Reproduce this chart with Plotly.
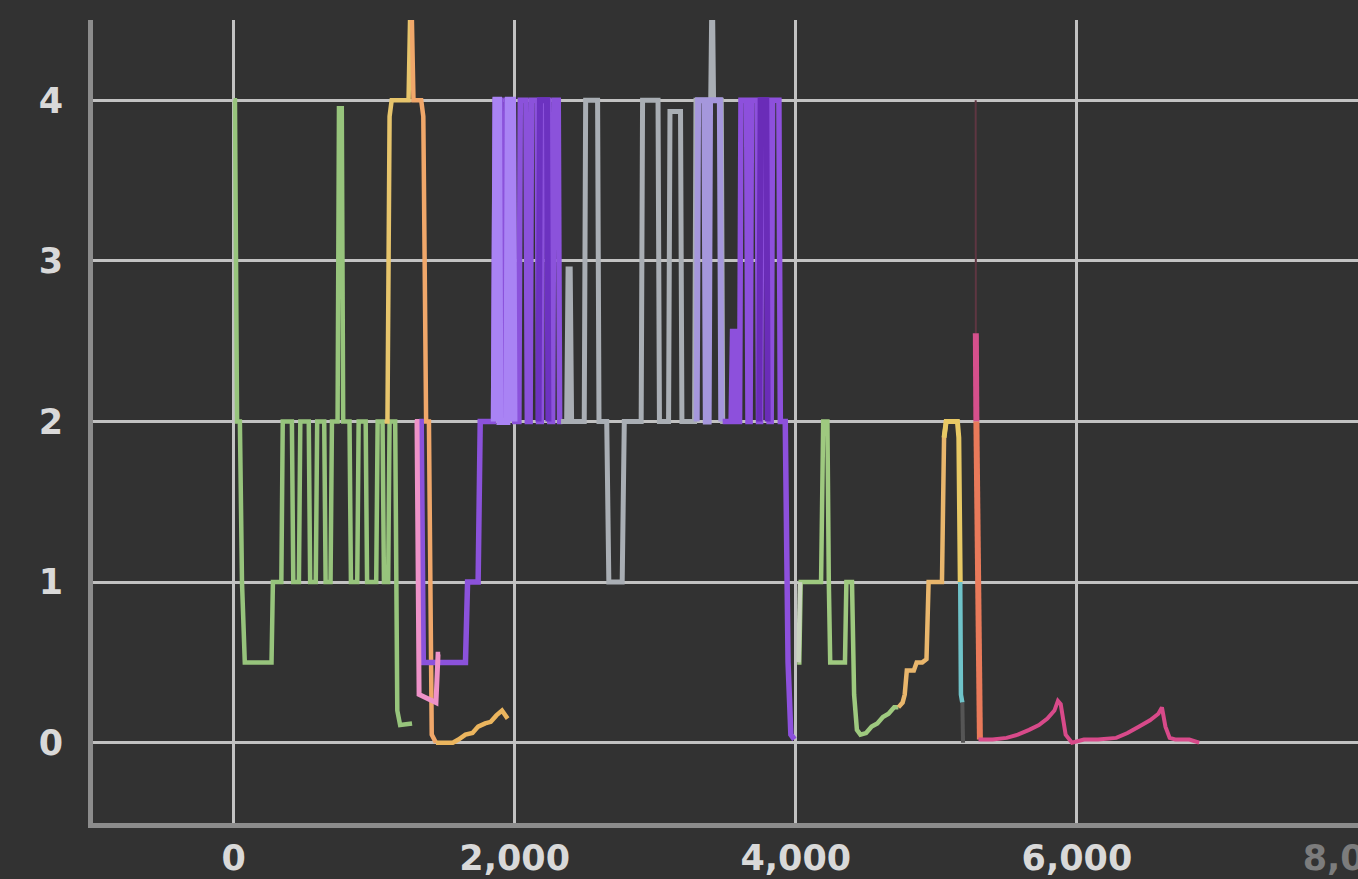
import plotly.graph_objects as go

# ---- data ----
green_a_x = [0, 10, 25, 45, 60, 80, 270, 280, 340, 350, 415, 425, 465, 475, 535, 545, 585, 595, 645, 655, 690, 700,
             740, 750, 770, 780, 825, 835, 880, 890, 940, 950, 1015, 1025, 1060, 1070, 1100, 1110, 1150, 1165, 1185, 1270]
green_a_y = [4, 4, 2, 2, 1, 0.5, 0.5, 1, 1, 2, 2, 1, 1, 2, 2, 1, 1, 2, 2, 1, 1, 2,
             2, 3.95, 3.95, 2, 2, 1, 1, 2, 2, 1, 1, 2, 2, 1, 1, 2, 2, 0.2, 0.11, 0.12]

yellow_a_x = [1075, 1095, 1110, 1125, 1245, 1262]
yellow_a_y = [2, 2, 3.9, 4, 4, 4.8]

orange_a_x = [1262, 1280, 1335, 1350, 1370, 1390, 1410, 1440]
orange_a_y = [4.8, 4, 4, 3.9, 2, 2, 0.05, 0]

gold_a_x = [1440, 1560, 1600, 1650, 1700, 1740, 1790, 1830, 1870, 1910, 1950]
gold_a_y = [0, 0, 0.02, 0.05, 0.06, 0.1, 0.12, 0.13, 0.17, 0.2, 0.15]

pink_a_x = [1290, 1305, 1320, 1440, 1455, 1470]
pink_a_y = [2, 2, 0.3, 0.25, 0.55, 0.55]

purple_a_x = [1320, 1335, 1350, 1460, 1650, 1665, 1740, 1755, 1850, 1862, 1900, 1910, 1930, 1940, 1990, 2000,
              2030, 2040, 2080, 2090, 2110, 2120, 2160, 2170, 2190, 2200, 2240, 2250, 2270, 2280, 2310, 2320, 2340]
purple_a_y = [2, 2, 0.5, 0.5, 0.5, 1, 1, 2, 2, 4, 4, 2, 2, 4, 4, 2,
              2, 4, 4, 2, 2, 4, 4, 2, 2, 4, 4, 2, 2, 4, 4, 2, 2]

lavender_a_x = [1855, 1867, 1885, 1895, 1945, 1955, 1985, 1995]
lavender_a_y = [2, 4, 4, 2, 2, 4, 4, 2]

darkpurple_a_x = [2170, 2180, 2230, 2240]
darkpurple_a_y = [2, 4, 4, 2]

gray_a_x = [2330, 2370, 2380, 2395, 2405, 2495, 2505, 2590, 2600, 2655, 2670, 2765, 2780, 2900, 2910, 3020, 3030,
            3095, 3105, 3180, 3190, 3280, 3290, 3395, 3405, 3415, 3470, 3480, 3540]
gray_a_y = [2, 2, 2.95, 2.95, 2, 2, 4, 4, 2, 2, 1, 1, 2, 2, 4, 4, 2,
            2, 3.93, 3.93, 2, 2, 4, 4, 4.8, 4, 4, 2, 2]

lavender_b_x = [3295, 3305, 3350, 3360, 3380, 3390, 3460, 3470]
lavender_b_y = [2, 4, 4, 2, 2, 4, 4, 2]

purple_b_x = [3480, 3540, 3550, 3565, 3575, 3600, 3610, 3650, 3660, 3675, 3685, 3725, 3735, 3750, 3760, 3800, 3810,
              3825, 3835, 3880, 3890, 3925, 3945, 3965, 3990]
purple_b_y = [2, 2, 2.56, 2.56, 2, 2, 4, 4, 2, 2, 4, 4, 2, 2, 4, 4, 2,
              2, 4, 4, 2, 2, 0.5, 0.05, 0.02]

darkpurple_b_x = [3740, 3750, 3790, 3800]
darkpurple_b_y = [2, 4, 4, 2]

pale_b_x = [4020, 4030]
pale_b_y = [0.5, 1]

green_b_x = [4010, 4025, 4035, 4180, 4195, 4225, 4235, 4245, 4350, 4360, 4400, 4415, 4435, 4460, 4500,
             4540, 4580, 4620, 4660, 4700, 4730]
green_b_y = [0.5, 0.5, 1, 1, 2, 2, 1, 0.5, 0.5, 1, 1, 0.3, 0.08, 0.05, 0.06,
             0.1, 0.12, 0.16, 0.18, 0.22, 0.22]

gold_b_x = [4730, 4760, 4775, 4790, 4840, 4860, 4900, 4930, 4945, 5040, 5055, 5070]
gold_b_y = [0.22, 0.25, 0.3, 0.45, 0.45, 0.5, 0.5, 0.52, 1, 1, 1.9, 2]

yellow_b_x = [5055, 5070, 5150, 5160, 5170]
yellow_b_y = [1.9, 2, 2, 1.9, 1]

teal_b_x = [5170, 5175, 5185]
teal_b_y = [1, 0.3, 0.25]

darkgray_b_x = [5185, 5190]
darkgray_b_y = [0.25, 0]

maroon_x = [5280, 5281]
maroon_y = [4.0, 2.55]

magenta_x = [5281, 5285]
magenta_y = [2.55, 2]

orangered_x = [5285, 5300, 5310]
orangered_y = [2, 0.05, 0.02]

tail_x = [5300, 5400, 5500, 5580, 5660, 5730, 5790, 5840, 5865, 5885, 5920, 5965, 6050, 6150, 6280,
          6360, 6440, 6520, 6580, 6605, 6630, 6660, 6700, 6800, 6870]
tail_y = [0.02, 0.02, 0.03, 0.05, 0.08, 0.11, 0.15, 0.2, 0.26, 0.24, 0.05, 0.0, 0.02, 0.02, 0.03,
          0.06, 0.1, 0.14, 0.18, 0.22, 0.1, 0.03, 0.02, 0.02, 0.0]

x_tick_vals = [0, 2000, 4000, 6000, 8000]
x_tick_text = ["0", "2,000", "4,000", "6,000", '<span style="color:#7c7c7c">8,000</span>']
y_tick_vals = [0, 1, 2, 3, 4]

series = [
    (green_a_x, green_a_y, "#97c47c", 4.5),
    (yellow_a_x, yellow_a_y, "#e7c56c", 4.5),
    (orange_a_x, orange_a_y, "#f0a76a", 4.5),
    (gold_a_x, gold_a_y, "#ebb55e", 4.5),
    (purple_a_x, purple_a_y, "#8b52db", 5.5),
    (pink_a_x, pink_a_y, "#ee92c8", 5),
    (lavender_a_x, lavender_a_y, "#a983f4", 7),
    (darkpurple_a_x, darkpurple_a_y, "#6c32c0", 6),
    (gray_a_x, gray_a_y, "#a9aeb4", 5),
    (lavender_b_x, lavender_b_y, "#a597dc", 6),
    (purple_b_x, purple_b_y, "#8d50dc", 5.5),
    (darkpurple_b_x, darkpurple_b_y, "#6a2cb8", 6),
    (green_b_x, green_b_y, "#9ec97f", 4.5),
    (pale_b_x, pale_b_y, "#c9d3bf", 4.5),
    (gold_b_x, gold_b_y, "#e9b66c", 4.5),
    (yellow_b_x, yellow_b_y, "#e8c965", 5),
    (teal_b_x, teal_b_y, "#6fc3c9", 4.5),
    (darkgray_b_x, darkgray_b_y, "#555555", 4),
    (maroon_x, maroon_y, "#5e3642", 2),
    (magenta_x, magenta_y, "#d5508c", 6),
    (orangered_x, orangered_y, "#e97a5a", 6),
    (tail_x, tail_y, "#d84a8a", 4),
]

fig = go.Figure()
for xs, ys, col, w in series:
    fig.add_trace(go.Scatter(x=xs, y=ys, mode="lines", line=dict(color=col, width=w),
                             hoverinfo="skip", showlegend=False))

bg = "#323232"
tick_font = dict(family="DejaVu Sans", size=35, color="#d9d9d9", weight="bold")

fig.update_layout(
    width=1358, height=879, autosize=False,
    margin=dict(l=93, r=0, t=20, b=56, autoexpand=False),
    paper_bgcolor=bg, plot_bgcolor=bg,
    showlegend=False,
    xaxis=dict(range=[-1000, 8000], tickvals=x_tick_vals, ticktext=x_tick_text,
               showgrid=True, gridcolor="#c2c2c2", gridwidth=3, zeroline=False,
               showline=True, linecolor="#8c8c8c", linewidth=5, automargin=False,
               ticks="", tickfont=tick_font, ticklabelstandoff=0,
               ticklabeloverflow="allow", fixedrange=True),
    yaxis=dict(range=[-0.5, 4.5], tickvals=y_tick_vals, automargin=False,
               showgrid=True, gridcolor="#c2c2c2", gridwidth=3, zeroline=False,
               showline=True, linecolor="#8c8c8c", linewidth=5,
               ticks="", tickfont=tick_font, ticklabelstandoff=18, fixedrange=True),
)

fig.write_html("out.html", config={"displayModeBar": False})
